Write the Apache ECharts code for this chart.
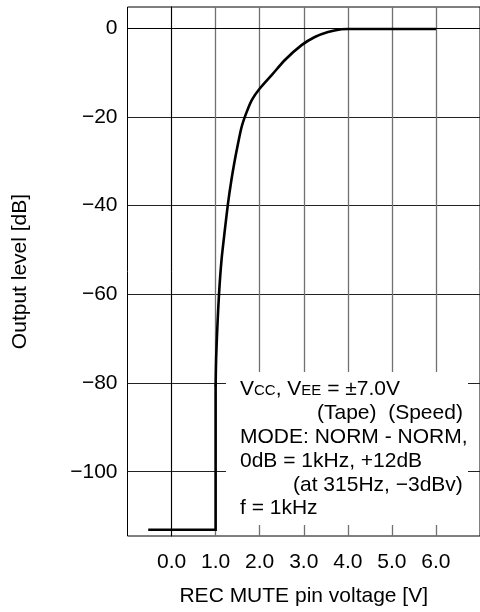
<!DOCTYPE html>
<html>
<head>
<meta charset="utf-8">
<script src="https://cdn.jsdelivr.net/npm/echarts@6/dist/echarts.min.js"></script>
<style>
html,body{margin:0;padding:0;background:#fff;}
#chart{width:480px;height:612px;}
</style>
</head>
<body>
<div id="chart"></div>
<script>
// Data
// muted part (flat + vertical step at 1.0 V)
var stepVoltage = [-0.5, 1.0, 1.0];
var stepLevel = [-113.1, -113.1, -80.7];
// rising part
var curveVoltage = [1.0, 1.011, 1.040, 1.079, 1.135, 1.202, 1.281, 1.360, 1.438, 1.494, 1.591, 1.708, 1.827, 1.993, 2.277, 2.578, 2.951, 3.251, 3.551, 3.85, 4.0, 6.0];
var curveLevel = [-80.7, -74.6, -67.2, -59.6, -52.1, -46.1, -39.5, -34.1, -29.6, -26.7, -22.2, -18.8, -16.1, -13.7, -10.5, -7.1, -3.8, -1.96, -0.83, -0.2, -0.15, -0.15];
var xTicks = [0, 1, 2, 3, 4, 5, 6];
var yTicks = [-100, -80, -60, -40, -20, 0];
var xTitle = 'REC MUTE pin voltage [V]';
var yTitle = 'Output level [dB]';
var noteLines = [
  '{n|V}{s|CC}{n|, V}{s|EE}{n| = \u00B17.0V}',
  '(Tape)  (Speed)',
  'MODE: NORM - NORM,',
  '0dB = 1kHz, +12dB',
  '(at 315Hz, \u22123dBv)',
  'f = 1kHz'
];

var FONT = '"Liberation Sans", Arial, Helvetica, sans-serif';
var chart = echarts.init(document.getElementById('chart'), null, {renderer: 'canvas'});

function zip(xs, ys) { return xs.map(function (v, i) { return [v, ys[i]]; }); }

var noteX = [240, 317, 240, 240, 293, 240];
var noteY = [389, 413, 437, 461, 485, 508];
var graphics = [{
  type: 'rect', z: 50,
  shape: {x: 226, y: 372, width: 242, height: 153},
  style: {fill: '#fff'}
}];
noteLines.forEach(function (t, i) {
  graphics.push({
    type: 'text', z: 51, x: noteX[i], y: noteY[i],
    style: {
      text: t, fill: '#000', font: '21px ' + FONT,
      verticalAlign: 'middle', align: 'left',
      rich: {
        n: {fontSize: 21, fontFamily: FONT, fill: '#000', verticalAlign: 'bottom'},
        s: {fontSize: 15, fontFamily: FONT, fill: '#000', verticalAlign: 'bottom', padding: [0, 0, 1, 0]}
      }
    }
  });
});

chart.setOption({
  animation: false,
  backgroundColor: '#fff',
  grid: {
    left: 127.5, top: 7, width: 356, height: 530,
    show: true, borderColor: '#000', borderWidth: 1, backgroundColor: 'transparent'
  },
  xAxis: {
    type: 'value', min: -1, max: 7,
    name: xTitle, nameLocation: 'middle', nameGap: 50,
    nameTextStyle: {fontSize: 21, fontFamily: FONT, color: '#000'},
    axisLine: {show: true, lineStyle: {color: '#000', width: 1}},
    axisTick: {show: false, customValues: xTicks},
    axisLabel: {
      customValues: xTicks, fontSize: 21, fontFamily: FONT, color: '#000', margin: 16,
      formatter: function (v) { return v.toFixed(1); }
    },
    splitLine: {show: true, lineStyle: {color: '#707070', width: 1.3}}
  },
  yAxis: {
    type: 'value', min: -114.5, max: 4.8,
    name: yTitle, nameLocation: 'middle', nameGap: 97,
    nameTextStyle: {fontSize: 21, fontFamily: FONT, color: '#000'},
    axisLine: {show: true, lineStyle: {color: '#000', width: 1}},
    axisTick: {show: false, customValues: yTicks},
    axisLabel: {
      customValues: yTicks, fontSize: 21, fontFamily: FONT, color: '#000', margin: 10,
      formatter: function (v) { return v === 0 ? '0' : '\u2212' + Math.abs(v); }
    },
    splitLine: {show: true, lineStyle: {color: '#222', width: 1}}
  },
  series: [{
    type: 'line', data: zip(stepVoltage, stepLevel), showSymbol: false, symbol: 'none',
    lineStyle: {color: '#000', width: 2.6, cap: 'square', join: 'miter'}, z: 10
  }, {
    type: 'line', data: zip(curveVoltage, curveLevel), showSymbol: false, symbol: 'none',
    smooth: 0.25,
    lineStyle: {color: '#000', width: 2.6}, z: 10
  }],
  graphic: graphics
});
</script>
</body>
</html>
